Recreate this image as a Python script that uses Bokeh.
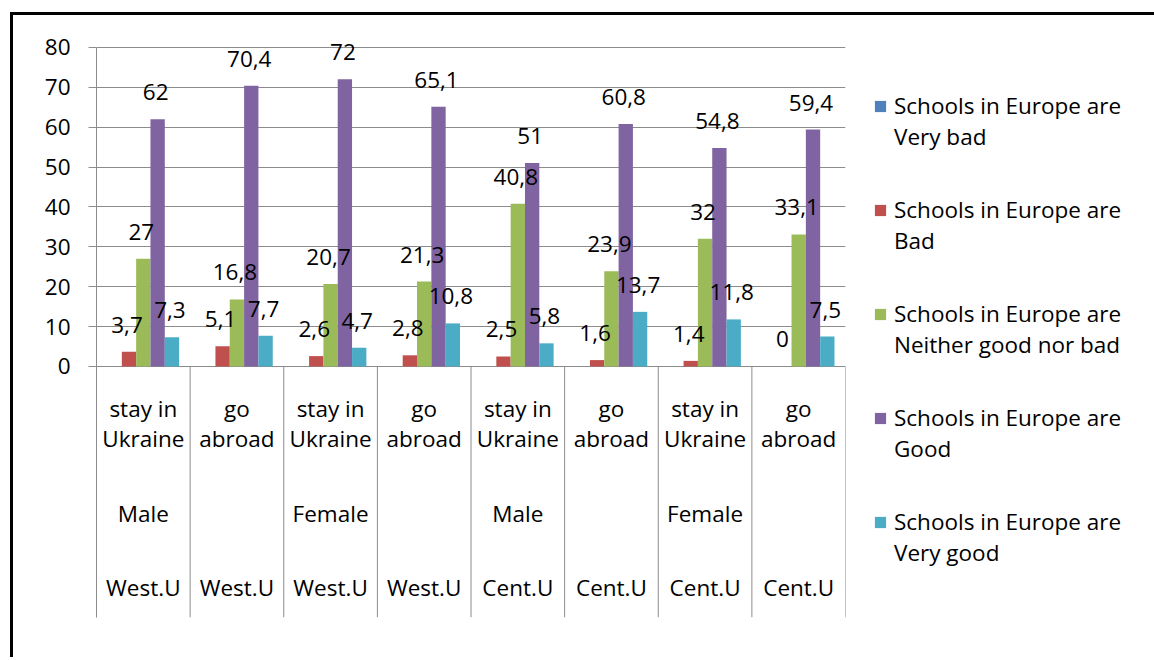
import math
from bokeh.plotting import figure
from bokeh.models import (ColumnDataSource, FactorRange, Range1d, FixedTicker,
                          Legend, LegendItem)
from bokeh.transform import dodge
from bokeh.core.properties import value
from bokeh.embed import file_html
from bokeh.resources import INLINE

# ---- data ----
line1 = ["stay in", "go", "stay in", "go", "stay in", "go", "stay in", "go"]
line2 = ["Ukraine", "abroad", "Ukraine", "abroad", "Ukraine", "abroad", "Ukraine", "abroad"]
gender = ["Male", "", "Female", "", "Male", "", "Female", ""]
region = ["West.U", "West.U", "West.U", "West.U", "Cent.U", "Cent.U", "Cent.U", "Cent.U"]
cats = [f"{r} {g} {a} {b} #{i}" for i, (a, b, g, r) in enumerate(zip(line1, line2, gender, region))]

series_names = [
    "Schools in Europe are\nVery bad",
    "Schools in Europe are\nBad",
    "Schools in Europe are\nNeither good nor bad",
    "Schools in Europe are\nGood",
    "Schools in Europe are\nVery good",
]
very_bad = [math.nan] * 8
bad = [3.7, 5.1, 2.6, 2.8, 2.5, 1.6, 1.4, 0]
neither = [27, 16.8, 20.7, 21.3, 40.8, 23.9, 32, 33.1]
good = [62, 70.4, 72, 65.1, 51, 60.8, 54.8, 59.4]
very_good = [7.3, 7.7, 4.7, 10.8, 5.8, 13.7, 11.8, 7.5]
series = [very_bad, bad, neither, good, very_good]
colors = ["#4F81BD", "#C0504D", "#9BBB59", "#8064A2", "#4BACC6"]
y_ticks = [0, 10, 20, 30, 40, 50, 60, 70, 80]

FONT = "Open Sans"
FS = "22.5px"
GRAY = "#8C8C8C"
Y_BOTTOM = -62.95
Y_MAX = 80

p = figure(x_range=FactorRange(factors=cats, range_padding=0),
           y_range=Range1d(Y_BOTTOM, 84.5),
           frame_width=749, frame_height=588,
           min_border_left=83, min_border_right=306,
           min_border_top=14, min_border_bottom=40,
           output_backend="svg", toolbar_location=None,
           x_axis_location=None)
p.outline_line_color = None
p.background_fill_color = "white"
p.border_fill_color = "white"
p.styles = {"margin-left": "10px", "margin-top": "12px",
            "border-left": "3px solid black", "border-top": "3px solid black"}

# axes / grid
p.xgrid.grid_line_color = None
p.ygrid.ticker = FixedTicker(ticks=y_ticks)
p.ygrid.grid_line_color = GRAY
p.ygrid.grid_line_width = 1
yax = p.yaxis[0]
yax.ticker = FixedTicker(ticks=y_ticks)
yax.bounds = (Y_BOTTOM, Y_MAX)
yax.axis_line_color = GRAY
yax.major_tick_line_color = GRAY
yax.major_tick_in = 0
yax.major_tick_out = 8
yax.minor_tick_line_color = None
yax.major_label_text_font = FONT
yax.major_label_text_font_size = FS
yax.major_label_text_color = "black"
yax.major_label_standoff = 18

# category separators (below the axis)
bsrc = ColumnDataSource(dict(cat=cats, y0=[0] * 8, y1=[Y_BOTTOM] * 8))
p.segment(x0=dodge("cat", -0.5, range=p.x_range), x1=dodge("cat", -0.5, range=p.x_range),
          y0="y0", y1="y1", source=bsrc, line_color=GRAY, line_width=1)
esrc = ColumnDataSource(dict(cat=cats[-1:], y0=[0], y1=[Y_BOTTOM]))
p.segment(x0=dodge("cat", 0.5, range=p.x_range), x1=dodge("cat", 0.5, range=p.x_range),
          y0="y0", y1="y1", source=esrc, line_color=GRAY, line_width=1)

bw = 0.153
offsets = [-2 * bw, -bw, 0, bw, 2 * bw]
items = []
sources = []
for name, vals, col, off in zip(series_names, series, colors, offsets):
    labels = ["" if (isinstance(v, float) and math.isnan(v)) else f"{v:g}".replace(".", ",") for v in vals]
    src = ColumnDataSource(dict(cat=cats, val=vals, lab=labels))
    sources.append((src, off))
    r = p.vbar(x=dodge("cat", off, range=p.x_range), top="val", bottom=0, width=bw,
               source=src, fill_color=col, line_color=None)
    items.append(LegendItem(label="\n" + name, renderers=[r]))

# data labels on top of all bars
for src, off in sources:
    p.text(x=dodge("cat", off, range=p.x_range), y="val", text="lab", source=src,
           text_font=value(FONT), text_font_size=FS, text_color="black",
           text_align="center", text_baseline="alphabetic", x_offset=-2, y_offset=-27)

# category labels
csrc = ColumnDataSource(dict(cat=cats, l1=line1, l2=line2, g=gender, r=region, z=[0] * 8))
for col, off in [("l1", 42), ("l2", 72), ("g", 147), ("r", 221)]:
    p.text(x="cat", y="z", text=col, source=csrc, text_font=value(FONT), text_font_size=FS,
           text_color="black", text_align="center", text_baseline="alphabetic", y_offset=off)

legend = Legend(items=items, location=(28, 49), orientation="vertical",
                label_text_font=FONT, label_text_font_size=FS, label_text_color="black",
                label_text_line_height=1.38, glyph_width=14, glyph_height=14,
                label_standoff=7, spacing=11, padding=0, margin=0,
                border_line_color=None, background_fill_color=None)
p.add_layout(legend, "right")

open("out.html", "w").write(file_html(p, INLINE))
